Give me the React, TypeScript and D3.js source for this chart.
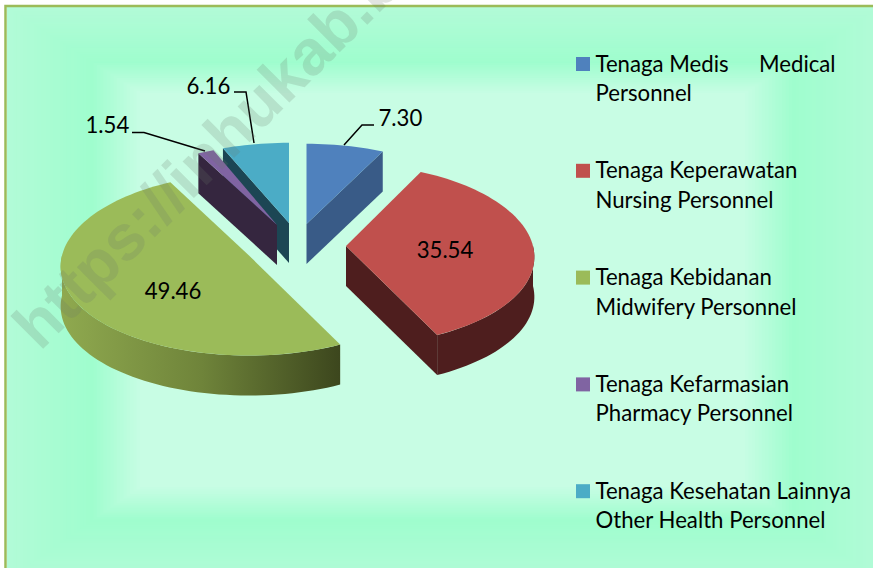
import React from "react";
import * as d3 from "d3";

const categories = [
  ["Tenaga Medis", "Medical", "Personnel"],
  ["Tenaga Keperawatan", "", "Nursing Personnel"],
  ["Tenaga Kebidanan", "", "Midwifery Personnel"],
  ["Tenaga Kefarmasian", "", "Pharmacy Personnel"],
  ["Tenaga Kesehatan Lainnya", "", "Other Health Personnel"],
];
const values = [7.3, 35.54, 49.46, 1.54, 6.16];
const valueLabels = ["7.30", "35.54", "49.46", "1.54", "6.16"];
const topColors = ["#4f81bd", "#c0504d", "#9bbb59", "#8064a2", "#4bacc6"];
const sideColors = ["#395b87", "#4e1e1e", "url(#greenSide)", "#35263f", "#1c4654"];

// exploded apex of each slice on the top plane, and its radius multipliers (x, y)
const apexes: [number, number, number, number][] = [
  [306.5, 224, 1.02, 0.98],
  [346, 246, 1, 1],
  [249, 255.5, 1, 1],
  [277, 225, 1, 0.98],
  [289, 223, 1.04, 0.98],
];
const RX = 187, RY = 90, PERSP_X = 0.12, PERSP_Y = 0.1, DEPTH = 40;
const FONT = "Lato, Carlito, Calibri, sans-serif";
const FS = 22.2;

const rad = (d: number) => (d * Math.PI) / 180;
const arcs = d3.pie<number>().sort(null).value((v) => v)(values);

function proj(i: number, a: number, r = 1, dz = 0): [number, number] {
  const [ax, ay, mx, my] = apexes[i];
  const u = Math.sin(a) * r, v = Math.cos(a) * r;
  return [ax + (RX * mx * u) / (1 + PERSP_X * v), ay - (RY * my * v) / (1 + PERSP_Y * v) + dz];
}
const line = d3.line<[number, number]>().curve(d3.curveLinear);
function arcPts(i: number, a0: number, a1: number, dz = 0) {
  const n = Math.max(2, Math.ceil((a1 - a0) / rad(2)));
  return d3.range(n + 1).map((k) => proj(i, a0 + ((a1 - a0) * k) / n, 1, dz));
}
function topPath(i: number) {
  const { startAngle: a, endAngle: b } = arcs[i];
  return line([proj(i, 0, 0), ...arcPts(i, a, b)]) + "Z";
}
function edgeFace(i: number, a: number) {
  return line([proj(i, 0, 0), proj(i, a), proj(i, a, 1, DEPTH), proj(i, 0, 0, DEPTH)]) + "Z";
}
function rimFace(i: number) {
  const lo = Math.max(arcs[i].startAngle, rad(90));
  const hi = Math.min(arcs[i].endAngle, rad(270));
  if (hi <= lo) return null;
  return line([...arcPts(i, lo, hi), ...arcPts(i, lo, hi, DEPTH).reverse()]) + "Z";
}
// which straight cut of each slice faces the viewer
const visibleEdge: ("start" | "end" | null)[] = ["end", "end", null, "start", "start"];

// page background: rectangular gradient frames
const outer = { x0: 7, y0: 7, x1: 880, y1: 580 };
const inner = { x0: 140, y0: 93, x1: 745, y1: 487 };
const bgColor = d3
  .scaleLinear<string>()
  .domain([0, 0.63, 1])
  .range(["#b2fbd7", "#9ffdce", "#c8fde4"]);
const frames = d3.range(0, 1.0001, 1 / 40);

const labelPos: [number, number, "start" | "middle"][] = [
  [378.5, 126, "start"],
  [445, 258, "middle"],
  [173, 299, "middle"],
  [85.5, 133, "start"],
  [186.5, 93.5, "start"],
];
const leaders: ([number, number][] | null)[] = [
  [[344, 145], [362, 125], [374, 125]],
  null,
  null,
  [[132, 132.5], [144, 132.5], [205, 151]],
  [[254, 143], [246, 92], [234, 92]],
];

export default function App() {
  return (
    <svg
      width={873}
      height={568}
      style={{ position: "absolute", left: 0, top: 0, display: "block" }}
      fontFamily={FONT}
    >
      <defs>
        <linearGradient id="greenSide" gradientUnits="userSpaceOnUse" x1={62} x2={341} y1={0} y2={0}>
          <stop offset="0" stopColor="#8fa94f" />
          <stop offset="0.5" stopColor="#6f843a" />
          <stop offset="1" stopColor="#3c461d" />
        </linearGradient>
      </defs>
      <rect width={873} height={568} fill="#fff" />
      {frames.map((t) => (
        <rect
          key={t}
          x={outer.x0 + (inner.x0 - outer.x0) * t}
          y={outer.y0 + (inner.y0 - outer.y0) * t}
          width={outer.x1 - outer.x0 + (inner.x1 - inner.x0 - (outer.x1 - outer.x0)) * t}
          height={outer.y1 - outer.y0 + (inner.y1 - inner.y0 - (outer.y1 - outer.y0)) * t}
          fill={bgColor(t)}
        />
      ))}
      <rect x={5.5} y={6} width={880} height={580} fill="none" stroke="#9bbb59" strokeWidth={2.5} />

      {[4, 3, 2, 0, 1].map((i) => {
        const edge = visibleEdge[i];
        const rim = rimFace(i);
        return (
          <g key={i}>
            {rim && <path d={rim} fill={sideColors[i]} />}
            {edge && (
              <path
                d={edgeFace(i, edge === "start" ? arcs[i].startAngle : arcs[i].endAngle)}
                fill={sideColors[i]}
              />
            )}
            <path d={topPath(i)} fill={topColors[i]} />
          </g>
        );
      })}

      {leaders.map(
        (pts, i) =>
          pts && <path key={i} d={line(pts)!} fill="none" stroke="#000" strokeWidth={1.5} />
      )}
      {valueLabels.map((t, i) => (
        <text key={t} x={labelPos[i][0]} y={labelPos[i][1]} textAnchor={labelPos[i][2]} fontSize={FS} fill="#000">
          {t}
        </text>
      ))}

      {categories.map((c, i) => {
        const y = 71.5 + i * 106.8;
        return (
          <g key={i}>
            <rect x={576} y={y - 14.5} width={14} height={14} fill={topColors[i]} />
            <text x={595.5} y={y} fontSize={FS} fill="#000">{c[0]}</text>
            {c[1] && <text x={759} y={y} fontSize={FS} fill="#000">{c[1]}</text>}
            <text x={595.5} y={y + 29.5} fontSize={FS} fill="#000">{c[2]}</text>
          </g>
        );
      })}

      <text
        transform="translate(40,352) rotate(-45)"
        fontFamily="'Liberation Sans', Arial, sans-serif"
        fontWeight="bold"
        fontSize={64}
        fill="#6a7a6a"
        fillOpacity={0.2}
      >
        https://inhukab.bps.go.id
      </text>
    </svg>
  );
}
